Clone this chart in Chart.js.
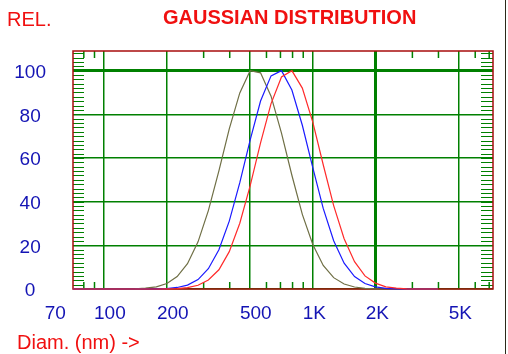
<!DOCTYPE html>
<html>
<head>
<meta charset="utf-8">
<script src="https://cdn.jsdelivr.net/npm/chart.js@4.4.1/dist/chart.umd.min.js"></script>
<style>
  html, body { margin: 0; padding: 0; background: #fff; }
  #wrap { position: relative; width: 508px; height: 354px; }
  #edge { position: absolute; left: 505px; top: 0; width: 1px; height: 354px; background: #2a2a1a; }
</style>
</head>
<body>
<div id="wrap">
  <canvas id="gaussChart" width="508" height="354"></canvas>
  <div id="edge"></div>
</div>
<script>
// diameters (nm), log spaced
const diameters = [71, 79, 89, 100, 112, 126, 141, 158, 178, 200, 224, 251, 282, 316, 355, 398, 447, 501,
  562, 631, 708, 794, 891, 1000, 1122, 1259, 1413, 1585, 1778, 1995, 2239, 2512, 2818, 3162, 3548, 3981];

// relative intensity of the three distributions
const oliveCurve = [0, 0, 0, 0, 0, 0, 0.1, 0.4, 1.0, 2.5, 5.7, 11.6, 21.6, 35.9, 54.1, 73.3, 89.8, 100,
  99, 88.3, 71.4, 52.1, 34.2, 20.4, 10.8, 5.2, 2.3, 0.9, 0.3, 0.1, 0, 0, 0, 0, 0, 0];
const blueCurve = [0, 0, 0, 0, 0, 0, 0, 0, 0.1, 0.2, 0.7, 1.8, 4.3, 9.3, 18.0, 31.1, 48.7, 68.2,
  86.1, 97.6, 100, 91.1, 75.0, 55.6, 36.9, 22.1, 11.8, 5.7, 2.5, 1.0, 0.3, 0.1, 0, 0, 0, 0];
const redCurve = [0, 0, 0, 0, 0, 0, 0, 0, 0, 0.1, 0.2, 0.6, 1.7, 4.1, 8.8, 17.1, 30.1, 47.2,
  66.9, 84.9, 97.1, 100, 92.0, 76.4, 56.9, 38.2, 23.0, 12.5, 6.0, 2.7, 1.0, 0.4, 0.1, 0, 0, 0];

const xTickValues = [70, 100, 200, 500, 1000, 2000, 5000];
const xTickLabels = ['70', '100', '200', '500', '1K', '2K', '5K'];
const xMinorTicks = [80, 90, 300, 400, 600, 700, 800, 900, 3000, 4000, 6000, 7000];

const gridGreen = '#008000';
const frameRed = '#a80c0c';
const tickBlue = '#1414b4';
const textRed = '#f01010';
const fontFam = '"Liberation Sans", Arial, sans-serif';

const toPoints = vals => diameters.map((d, i) => ({ x: d, y: vals[i] }));

const framePlugin = {
  id: 'frame',
  beforeDatasetsDraw(chart) {
    const { ctx, chartArea: a, scales: { x, y } } = chart;
    ctx.save();
    ctx.strokeStyle = gridGreen;
    ctx.lineWidth = 1;
    for (let v = 2; v < 109; v += 2) {
      const py = Math.round(y.getPixelForValue(v)) + 0.5;
      ctx.beginPath();
      ctx.moveTo(a.left, py); ctx.lineTo(a.left + 11, py);
      ctx.moveTo(a.right - 12, py); ctx.lineTo(a.right, py);
      ctx.stroke();
    }
    ctx.lineWidth = 1.5;
    xMinorTicks.forEach(v => {
      const px = x.getPixelForValue(v);
      ctx.beginPath();
      ctx.moveTo(px, a.top); ctx.lineTo(px, a.top + 7);
      ctx.moveTo(px, a.bottom - 7); ctx.lineTo(px, a.bottom);
      ctx.stroke();
    });
    ctx.strokeStyle = frameRed;
    ctx.lineWidth = 1.5;
    ctx.strokeRect(a.left, a.top, a.right - a.left, a.bottom - a.top);
    ctx.restore();
  },
  afterDraw(chart) {
    const { ctx, scales: { x } } = chart;
    ctx.save();
    ctx.textBaseline = 'alphabetic';
    ctx.textAlign = 'left';
    ctx.fillStyle = tickBlue;
    ctx.font = '19px ' + fontFam;
    ctx.fillText(xTickLabels[0], x.getPixelForValue(xTickValues[0]) - 27, 319);
    ctx.fillStyle = textRed;
    ctx.font = '20px ' + fontFam;
    ctx.fillText('REL.', 7, 26);
    ctx.fillText('Diam. (nm) ->', 17, 349);
    ctx.font = 'bold 20px ' + fontFam;
    ctx.fillText('GAUSSIAN DISTRIBUTION', 163, 24);
    ctx.restore();
  }
};

const ctx = document.getElementById('gaussChart').getContext('2d');
new Chart(ctx, {
  type: 'line',
  data: {
    datasets: [
      { data: toPoints(oliveCurve), borderColor: '#6f6f45', order: 3 },
      { data: toPoints(blueCurve), borderColor: '#1a1aff', order: 2 },
      { data: toPoints(redCurve), borderColor: '#ff2a2a', order: 1 }
    ]
  },
  options: {
    responsive: false,
    animation: false,
    datasets: { line: { borderWidth: 1.2, pointRadius: 0, tension: 0, clip: 4 } },
    layout: { padding: { top: 51, right: 15, left: 0, bottom: 0 } },
    plugins: { legend: { display: false }, tooltip: { enabled: false } },
    scales: {
      x: {
        type: 'logarithmic',
        min: 71,
        max: 7300,
        afterBuildTicks: s => { s.ticks = xTickValues.slice(1).map(v => ({ value: v })); },
        afterFit: s => { s.height = 65; },
        border: { display: false },
        grid: {
          color: gridGreen,
          lineWidth: c => (c.tick && c.tick.value === 2000 ? 3 : 1.5),
          drawTicks: false
        },
        ticks: {
          autoSkip: false,
          maxRotation: 0,
          align: 'start',
          labelOffset: -10,
          padding: 13,
          color: tickBlue,
          font: { family: fontFam, size: 19 },
          callback: v => xTickLabels[xTickValues.indexOf(v)]
        }
      },
      y: {
        min: 0,
        max: 109,
        afterFit: s => { s.width = 73; },
        border: { display: false },
        grid: {
          color: gridGreen,
          lineWidth: c => (c.tick && c.tick.value === 100 ? 3 : 1.5),
          drawTicks: false
        },
        ticks: {
          stepSize: 10,
          includeBounds: false,
          crossAlign: 'center',
          padding: 27,
          labelOffset: 2,
          color: tickBlue,
          font: { family: fontFam, size: 19 },
          callback: v => (v % 20 === 0 ? String(v) : '')
        }
      }
    }
  },
  plugins: [framePlugin]
});
</script>
</body>
</html>
